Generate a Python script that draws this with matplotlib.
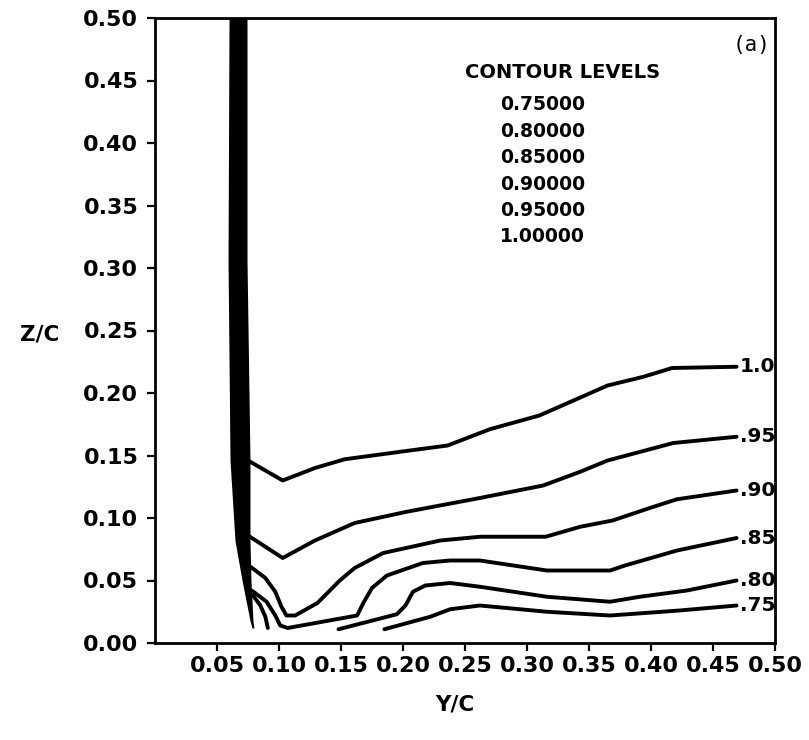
import matplotlib
matplotlib.use("Agg")
import matplotlib.pyplot as plt

# contour levels (value, label at right end)
levels = [0.75, 0.80, 0.85, 0.90, 0.95, 1.00]
level_labels = [".75", ".80", ".85", ".90", ".95", "1.0"]
level_list = ["0.75000", "0.80000", "0.85000", "0.90000", "0.95000", "1.00000"]

# contour polylines (Y/C, Z/C)
c100_y = [0.075, 0.103, 0.129, 0.153, 0.198, 0.236, 0.270, 0.310, 0.365, 0.394, 0.417, 0.469]
c100_z = [0.146, 0.130, 0.140, 0.147, 0.153, 0.158, 0.171, 0.182, 0.206, 0.213, 0.220, 0.221]

c095_y = [0.075, 0.103, 0.129, 0.161, 0.203, 0.262, 0.313, 0.343, 0.365, 0.418, 0.469]
c095_z = [0.086, 0.068, 0.082, 0.096, 0.105, 0.116, 0.126, 0.137, 0.146, 0.160, 0.165]

c090_y = [0.077, 0.089, 0.097, 0.102, 0.106, 0.113, 0.131, 0.149, 0.161, 0.184, 0.230,
          0.262, 0.315, 0.343, 0.369, 0.399, 0.421, 0.469]
c090_z = [0.061, 0.052, 0.041, 0.029, 0.022, 0.022, 0.032, 0.050, 0.060, 0.072, 0.082,
          0.085, 0.085, 0.093, 0.098, 0.108, 0.115, 0.122]

c085_y = [0.078, 0.090, 0.097, 0.101, 0.107, 0.163, 0.168, 0.175, 0.187, 0.216, 0.238,
          0.262, 0.316, 0.367, 0.379, 0.421, 0.469]
c085_z = [0.042, 0.033, 0.022, 0.014, 0.012, 0.022, 0.032, 0.044, 0.054, 0.064, 0.066,
          0.066, 0.058, 0.058, 0.062, 0.074, 0.084]

c080a_y = [0.079, 0.085, 0.089, 0.091]
c080a_z = [0.038, 0.030, 0.021, 0.012]
c080b_y = [0.148, 0.195, 0.202, 0.208, 0.218, 0.238, 0.262, 0.316, 0.367, 0.391, 0.429, 0.469]
c080b_z = [0.011, 0.023, 0.030, 0.041, 0.046, 0.048, 0.045, 0.037, 0.033, 0.037, 0.042, 0.050]

c075_y = [0.185, 0.222, 0.238, 0.262, 0.316, 0.367, 0.423, 0.469]
c075_z = [0.011, 0.021, 0.027, 0.030, 0.025, 0.022, 0.026, 0.030]

# dense bundle of contours along the wall
wall_z = [0.500, 0.306, 0.146, 0.082, 0.050, 0.018, 0.012]
wall_left = [0.0597, 0.0589, 0.0605, 0.0645, 0.0702, 0.0766, 0.0782]
wall_right = [0.0742, 0.0742, 0.0766, 0.0766, 0.0774, 0.0790, 0.0798]

xticks = [0.05, 0.10, 0.15, 0.20, 0.25, 0.30, 0.35, 0.40, 0.45, 0.50]
yticks = [0.00, 0.05, 0.10, 0.15, 0.20, 0.25, 0.30, 0.35, 0.40, 0.45, 0.50]

FONT = "DejaVu Sans"
plt.rcParams["font.family"] = FONT

fig = plt.figure(figsize=(8.09, 7.40), dpi=100)
ax = fig.add_axes([155 / 809, 97 / 740, 620 / 809, 625 / 740])
ax.set_xlim(0, 0.5)
ax.set_ylim(0, 0.5)

lw = 2.8
ax.fill_betweenx(wall_z, wall_left, wall_right, color="black", lw=0)
lines = [
    (c075_y, c075_z), (c080a_y, c080a_z), (c080b_y, c080b_z),
    (c085_y, c085_z), (c090_y, c090_z), (c095_y, c095_z), (c100_y, c100_z),
]
for ys, zs in lines:
    ax.plot(ys, zs, color="black", lw=lw, solid_capstyle="round", solid_joinstyle="round")

# level labels at the right-hand ends
ends = [c075_z[-1], c080b_z[-1], c085_z[-1], c090_z[-1], c095_z[-1], c100_z[-1]]
for lab, z in zip(level_labels, ends):
    ax.text(0.4715, z, lab, fontsize=14.5, fontweight="bold", ha="left", va="center")

# contour level list
ax.text(0.329, 0.4568, "CONTOUR LEVELS", fontsize=14, fontweight="bold",
        ha="center", va="center")
for i, s in enumerate(level_list):
    ax.text(0.3125, 0.4304 - i * 0.0211, s, fontsize=13.5, fontweight="bold",
            ha="center", va="center")

ax.text(0.4815, 0.4784, "(a)", fontsize=15, family="DejaVu Sans Mono",
        ha="center", va="center")

ax.set_xticks(xticks)
ax.set_xticklabels([f"{v:.2f}" for v in xticks])
ax.set_yticks(yticks)
ax.set_yticklabels([f"{v:.2f}" for v in yticks])
ax.tick_params(axis="both", direction="out", length=6, width=1.6, labelsize=16)
ax.tick_params(axis="x", pad=3)
ax.tick_params(axis="y", pad=6)
for t in ax.get_xticklabels() + ax.get_yticklabels():
    t.set_fontweight("bold")
for sp in ax.spines.values():
    sp.set_linewidth(2.0)

fig.text(40 / 809, 1 - 335 / 740, "Z/C", fontsize=15.5, fontweight="bold",
         ha="center", va="center")
fig.text(455 / 809, 1 - 705 / 740, "Y/C", fontsize=15.5, fontweight="bold",
         ha="center", va="center")

fig.savefig("out.png", dpi=100)
